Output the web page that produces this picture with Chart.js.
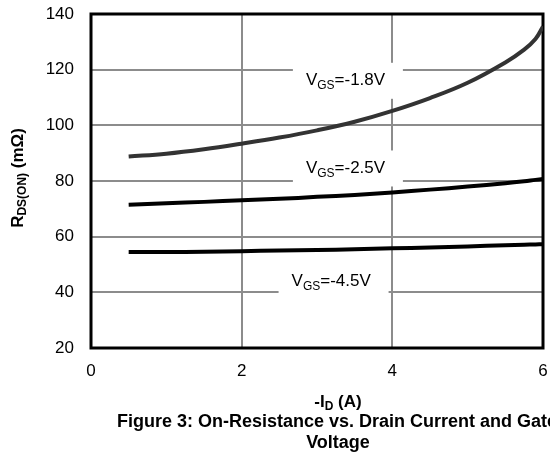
<!DOCTYPE html>
<html>
<head>
<meta charset="utf-8">
<script src="https://cdn.jsdelivr.net/npm/chart.js@4.4.0/dist/chart.umd.min.js"></script>
<style>
  body { margin: 0; background: #fff; }
  canvas { display: block; }
</style>
</head>
<body>
<canvas id="rdsChart" width="550" height="456"></canvas>
<script>
// datos
const corriente = [0.5, 1, 1.5, 2, 2.5, 3, 3.5, 4, 4.5, 5, 5.5, 5.75, 5.9, 6];
const rdsVgs18 = [88.8, 89.8, 91.4, 93.4, 95.6, 98.2, 101.3, 105.2, 109.8, 115.3, 122.6, 127.2, 131, 135.5];
const rdsVgs25 = [71.5, 72, 72.5, 73.1, 73.6, 74.3, 75.0, 75.9, 76.9, 78, 79.2, 79.9, 80.4, 80.7];
const rdsVgs45 = [54.5, 54.5, 54.6, 54.8, 55.0, 55.2, 55.5, 55.8, 56.1, 56.5, 56.9, 57.1, 57.2, 57.3];
const ticksX = [0, 2, 4, 6];
const ticksY = [20, 40, 60, 80, 100, 120, 140];
const etiquetas = ['=-1.8V', '=-2.5V', '=-4.5V'];

const FUENTE = '"Liberation Sans", Arial, sans-serif';

function puntos(valores) {
  return corriente.map((x, i) => ({ x: x, y: valores[i] }));
}

// texto con subindice: partes [[texto, sub?], ...]
function textoSub(ctx, partes, x, y, tam, negrita) {
  let cx = x;
  partes.forEach(p => {
    const sub = p[1];
    ctx.font = (negrita ? 'bold ' : '') + (sub ? Math.round(tam * 0.68) : tam) + 'px ' + FUENTE;
    ctx.fillText(p[0], cx, sub ? y + tam * 0.3 : y);
    cx += ctx.measureText(p[0]).width;
  });
  return cx - x;
}

function anchoSub(ctx, partes, tam, negrita) {
  let w = 0;
  partes.forEach(p => {
    ctx.font = (negrita ? 'bold ' : '') + (p[1] ? Math.round(tam * 0.68) : tam) + 'px ' + FUENTE;
    w += ctx.measureText(p[0]).width;
  });
  return w;
}

const pluginDibujo = {
  id: 'dibujo',
  beforeDatasetsDraw(chart) {
    const ctx = chart.ctx;
    const a = chart.chartArea;
    const sx = chart.scales.x, sy = chart.scales.y;
    ctx.save();
    // cajas blancas con etiquetas VGS
    const pos = [[2.68, 116], [2.68, 84.5], [2.49, 44]];
    pos.forEach((p, i) => {
      const x0 = sx.getPixelForValue(p[0]);
      const yc = sy.getPixelForValue(p[1]);
      ctx.fillStyle = '#fff';
      ctx.fillRect(x0, yc - 18, 110, 36);
      ctx.fillStyle = '#000';
      ctx.textBaseline = 'middle';
      ctx.textAlign = 'left';
      textoSub(ctx, [['V', false], ['GS', true], [etiquetas[i], false]], x0 + 13, yc, 17, false);
    });
    // marco
    ctx.strokeStyle = '#000';
    ctx.lineWidth = 3;
    ctx.strokeRect(a.left, a.top, a.right - a.left, a.bottom - a.top);
    ctx.restore();
  },
  afterDraw(chart) {
    const ctx = chart.ctx;
    ctx.save();
    ctx.fillStyle = '#000';
    ctx.textBaseline = 'middle';
    ctx.textAlign = 'left';
    // titulo eje x
    const px = [['-I', false], ['D', true], [' (A)', false]];
    let w = anchoSub(ctx, px, 17, true);
    textoSub(ctx, px, 338 - w / 2, 402, 17, true);
    // pie de figura
    ctx.textAlign = 'center';
    ctx.font = 'bold 18px ' + FUENTE;
    ctx.fillText('Figure 3: On-Resistance vs. Drain Current and Gate', 337, 422);
    ctx.fillText('Voltage', 338, 443);
    // titulo eje y
    ctx.translate(18, 178);
    ctx.rotate(-Math.PI / 2);
    ctx.textAlign = 'left';
    const py = [['R', false], ['DS(ON)', true], [' (m\u03A9)', false]];
    w = anchoSub(ctx, py, 17, true);
    textoSub(ctx, py, -w / 2, 0, 17, true);
    ctx.restore();
  }
};

document.addEventListener('DOMContentLoaded', () => {
  const ctx = document.getElementById('rdsChart').getContext('2d');
  const linea = (valores, color) => ({
    data: puntos(valores),
    borderColor: color,
    borderWidth: 4,
    pointRadius: 0,
    tension: 0.4,
    fill: false
  });
  new Chart(ctx, {
    type: 'line',
    data: {
      datasets: [
        linea(rdsVgs18, '#333333'),
        linea(rdsVgs25, '#000000'),
        linea(rdsVgs45, '#000000')
      ]
    },
    options: {
      responsive: false,
      animation: false,
      layout: { padding: { top: 14, right: 7, left: 0, bottom: 0 } },
      plugins: { legend: { display: false }, tooltip: { enabled: false } },
      scales: {
        x: {
          type: 'linear',
          min: 0, max: 6,
          afterBuildTicks: s => { s.ticks = ticksX.map(v => ({ value: v })); },
          afterFit: s => { s.height = 108; s.paddingLeft = 0; s.paddingRight = 0; },
          grid: { color: '#8c8c8c', lineWidth: 2, drawTicks: false },
          border: { display: false },
          ticks: { padding: 13, color: '#000', font: { family: FUENTE, size: 17 } }
        },
        y: {
          min: 20, max: 140,
          afterBuildTicks: s => { s.ticks = ticksY.map(v => ({ value: v })); },
          afterFit: s => { s.width = 91; s.paddingTop = 0; s.paddingBottom = 0; },
          grid: { color: '#8c8c8c', lineWidth: 2, drawTicks: false },
          border: { display: false },
          ticks: { padding: 17, color: '#000', font: { family: FUENTE, size: 17 } }
        }
      }
    },
    plugins: [pluginDibujo]
  });
});
</script>
</body>
</html>
